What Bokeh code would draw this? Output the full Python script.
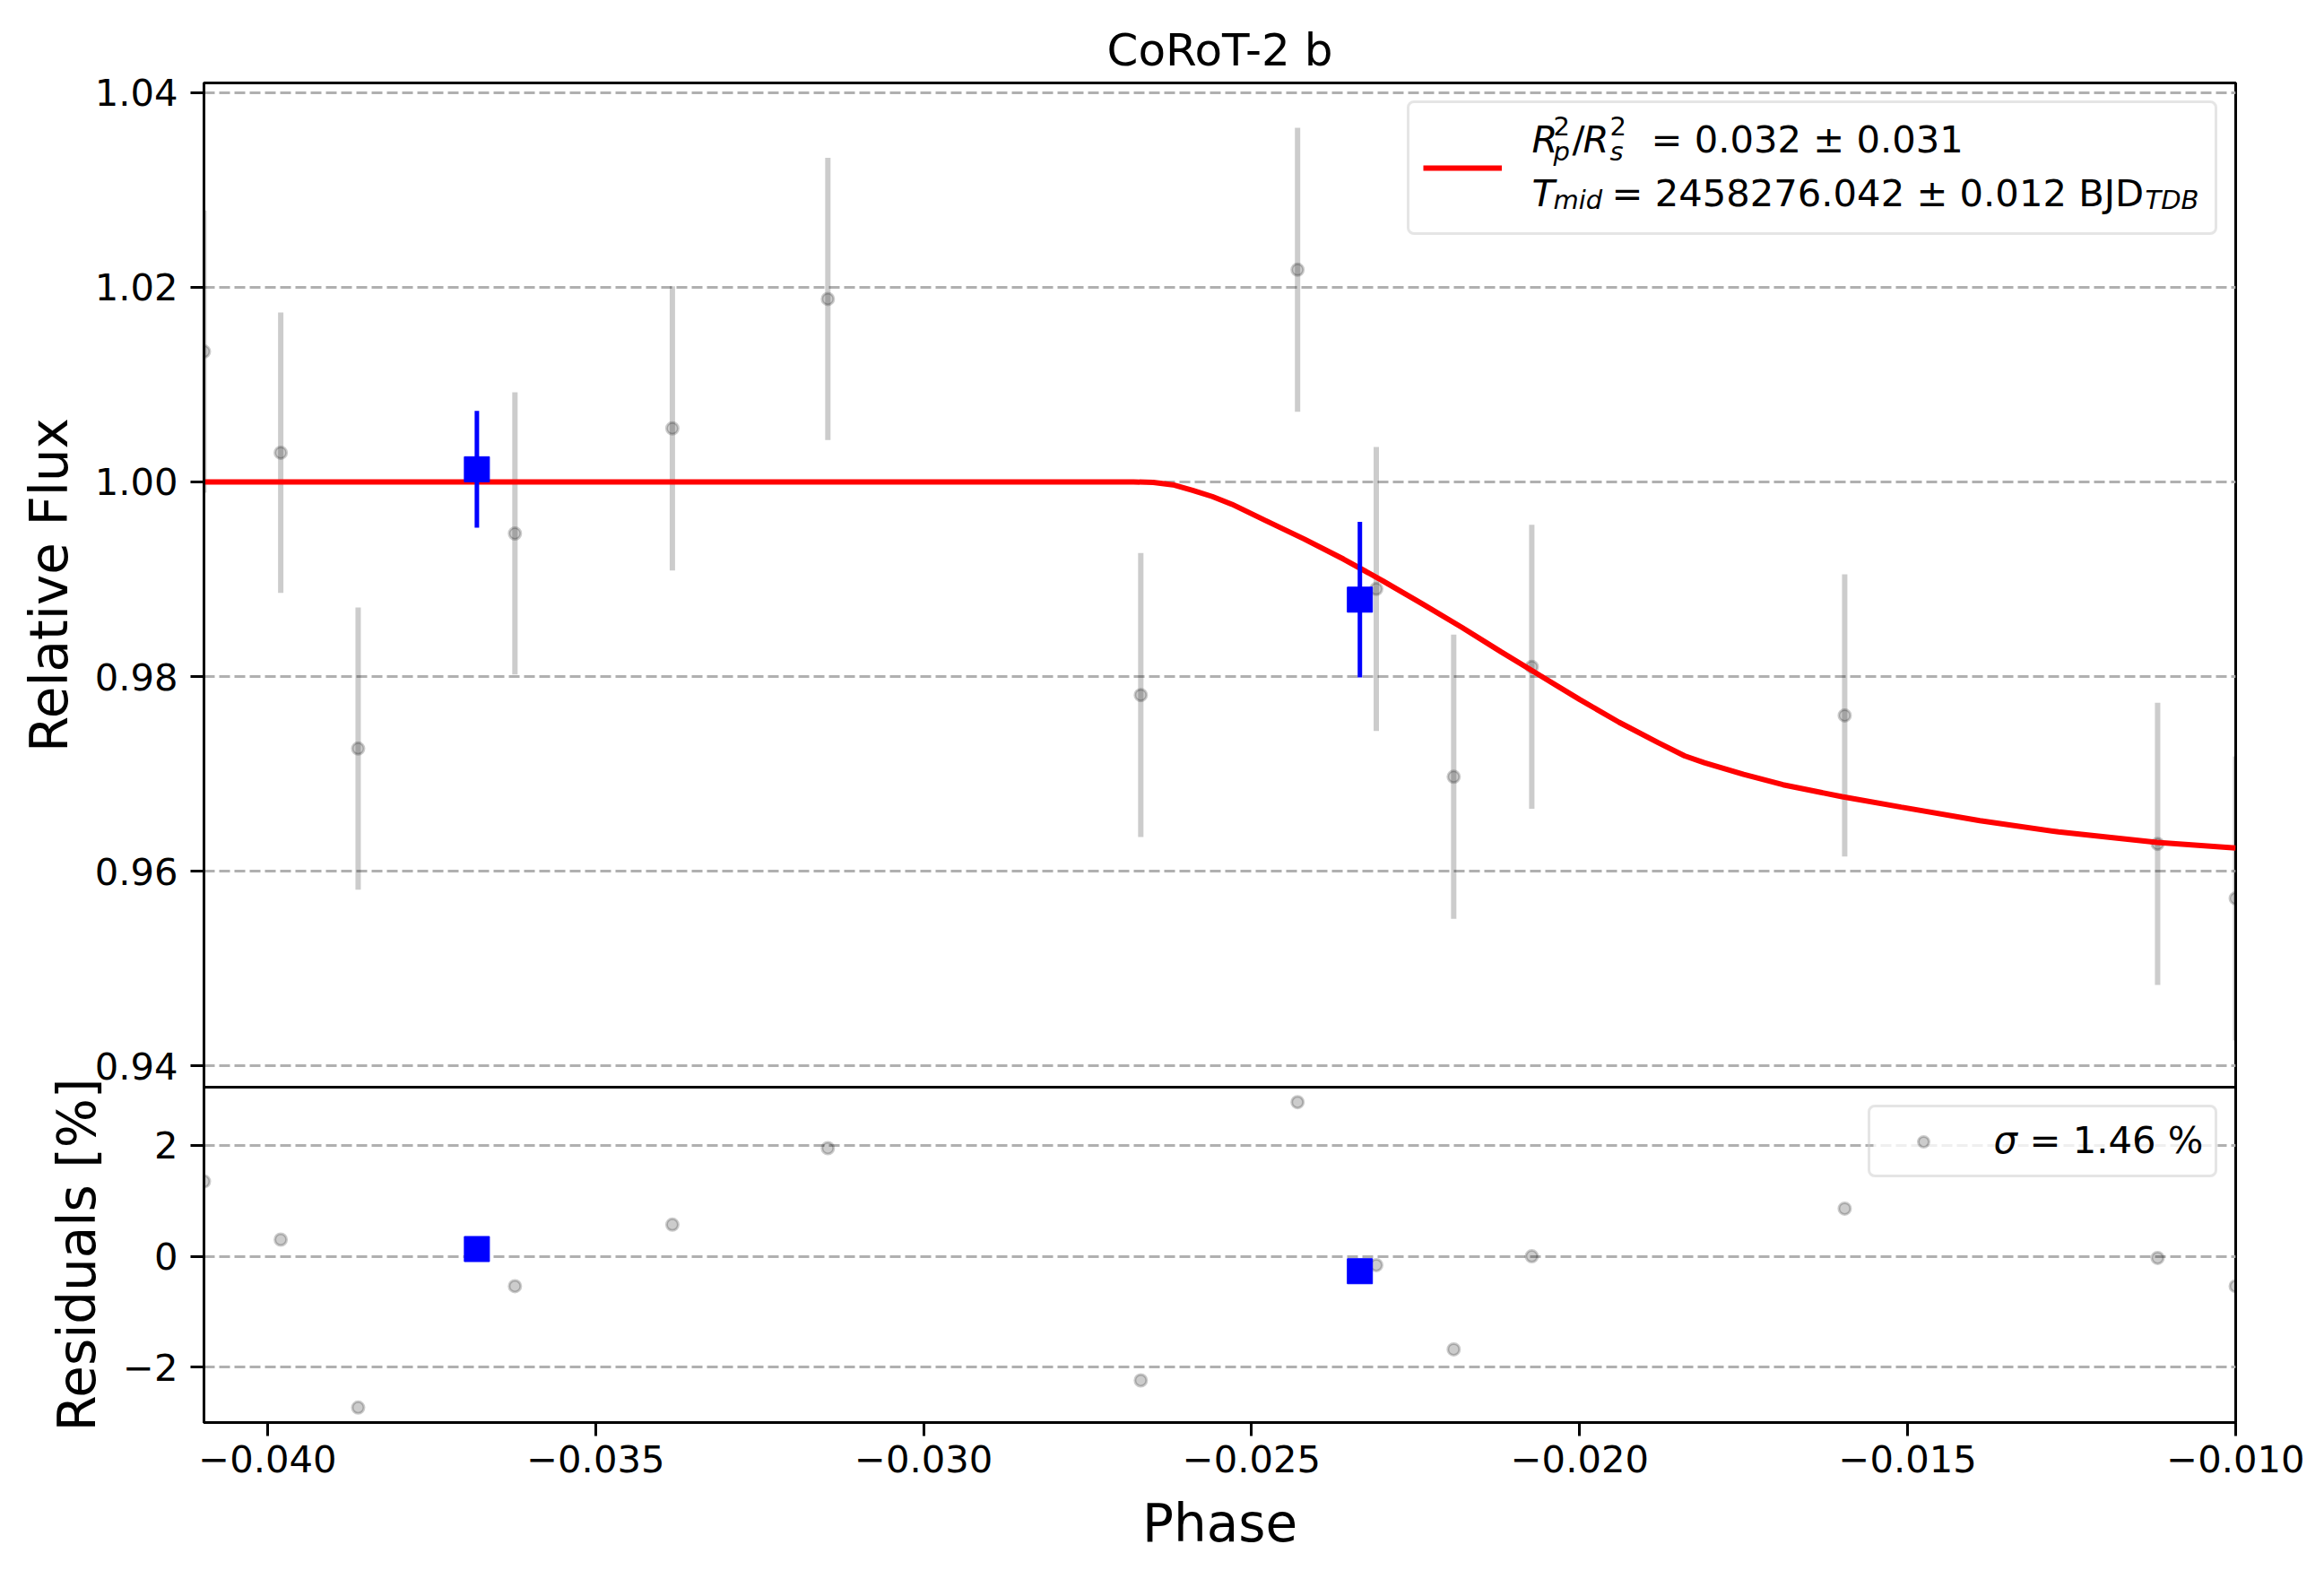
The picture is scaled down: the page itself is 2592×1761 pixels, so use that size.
import numpy as np
from bokeh.plotting import figure
from bokeh.layouts import column
from bokeh.models import (ColumnDataSource, Range1d, FixedTicker, CustomJSTickFormatter,
                          Legend, LegendItem, Label, BoxAnnotation)
from bokeh.embed import file_html
from bokeh.resources import INLINE

# unbinned points
phase = [-0.04097, -0.03980, -0.03862, -0.03623, -0.03383, -0.03146, -0.02669,
         -0.02430, -0.02310, -0.02192, -0.02073, -0.01596, -0.01119, -0.01000]
flux = [1.0134, 1.0030, 0.9726, 0.9947, 1.0055, 1.0188, 0.9781,
        1.0218, 0.9890, 0.9697, 0.9810, 0.9760, 0.9628, 0.9572]
flux_err = [0.0145, 0.0144, 0.0145, 0.0145, 0.0146, 0.0145, 0.0146,
            0.0146, 0.0146, 0.0146, 0.0146, 0.0145, 0.0145, 0.0146]
residuals = [1.35, 0.30, -2.73, -0.54, 0.57, 1.95, -2.24,
             2.78, -0.16, -1.68, 0.00, 0.86, -0.03, -0.54]

# binned points
bin_phase = [-0.03681, -0.02335]
bin_flux = [1.0013, 0.9879]
bin_err = [0.0060, 0.0080]
bin_residuals = [0.13, -0.27]

# transit model
model_phase = [-0.04097, -0.0268, -0.0265, -0.0262, -0.0259, -0.0256, -0.0253, -0.0248,
               -0.0242, -0.0236, -0.0230, -0.0224, -0.0218, -0.0212, -0.0206, -0.0200,
               -0.0194, -0.0188, -0.0184, -0.0181, -0.0175, -0.0169, -0.0160, -0.0151,
               -0.0139, -0.0127, -0.0112, -0.0100]
model_flux = [1.0, 1.0, 0.99995, 0.9997, 0.99914, 0.99850, 0.99770, 0.99607,
              0.99413, 0.99207, 0.98983, 0.98747, 0.98507, 0.98255, 0.98009, 0.97764,
              0.97530, 0.97320, 0.97185, 0.97115, 0.96995, 0.96888, 0.96765, 0.96658,
              0.96519, 0.96403, 0.96295, 0.96237]

x_ticks = [-0.040, -0.035, -0.030, -0.025, -0.020, -0.015, -0.010]
flux_ticks = [0.94, 0.96, 0.98, 1.00, 1.02, 1.04]
res_ticks = [-2, 0, 2]

FONT = "DejaVu Sans"
TICK_SIZE = "41.7px"
LABEL_SIZE = "58px"
W = 2576
LEFT, RIGHT, TOP = 227, 83, 92
FRAME_W = W - LEFT - RIGHT
MAIN_FH = 1120            # main frame height
RES_FH = 374              # residual frame height
OVERLAP = 40              # spare border shared by the two canvases
RES_BOTTOM = 169
MAIN_H = TOP + MAIN_FH + OVERLAP
RES_H = OVERLAP + RES_FH + RES_BOTTOM
RES_TOP = TOP + MAIN_FH   # page y of the residual frame top
TEXT_SHIFT = -13          # baseline correction for the legend texts

x_range = Range1d(-0.04097, -0.0100)
y_main = Range1d(0.9378, 1.0410)
y_res = Range1d(-3.0, 3.05)


def px_x(X):
    # page pixel -> phase
    return x_range.start + (X - LEFT) / FRAME_W * (x_range.end - x_range.start)


def px_y(Y, rng, top, fh):
    return rng.end - (Y - top) / fh * (rng.end - rng.start)


def style(fig):
    fig.outline_line_color = "black"
    fig.outline_line_width = 3
    fig.outline_line_alpha = 1
    fig.background_fill_color = "white"
    fig.xgrid.visible = False
    fig.ygrid.grid_line_color = "#b0b0b0"
    fig.ygrid.grid_line_width = 3
    fig.ygrid.grid_line_dash = "12 5"
    for ax in list(fig.xaxis) + list(fig.yaxis):
        ax.axis_line_color = "black"
        ax.axis_line_width = 3
        ax.major_tick_line_color = "black"
        ax.major_tick_line_width = 3
        ax.major_tick_out = 15
        ax.major_tick_in = 0
        ax.minor_tick_line_color = None
        ax.major_label_text_font = FONT
        ax.major_label_text_font_size = TICK_SIZE
        ax.major_label_text_color = "black"
        ax.axis_label_text_font = FONT
        ax.axis_label_text_font_size = LABEL_SIZE
        ax.axis_label_text_font_style = "normal"
        ax.axis_label_text_color = "black"
    for ax in fig.yaxis:
        ax.major_label_standoff = 14
        ax.axis_label_standoff = 14
    for ax in fig.xaxis:
        ax.major_label_standoff = 10
        ax.axis_label_standoff = 20


def legend_box(fig, renderer, glyph_h, label_h, label_w, box, rng, top, fh):
    # translucent fill as a box annotation (the legend itself would cover the texts)
    x0, x1, y0, y1 = box
    fig.add_layout(BoxAnnotation(left=px_x(x0), right=px_x(x1),
                                 top=px_y(y0, rng, top, fh), bottom=px_y(y1, rng, top, fh),
                                 fill_color="white", fill_alpha=0.8, line_color=None,
                                 level="underlay"))
    leg = Legend(items=[LegendItem(label=" ", renderers=[renderer])],
                 location="top_right", margin=20, padding=15, spacing=0,
                 glyph_width=88, glyph_height=glyph_h,
                 label_width=label_w, label_height=label_h, label_standoff=30,
                 label_text_font_size="10px",
                 border_line_color="#cccccc", border_line_width=3,
                 background_fill_alpha=0)
    if "border_radius" in Legend.properties():
        leg.border_radius = 8
    fig.add_layout(leg)


def add_text(fig, txt, X, Y, rng, top, fh, font_style="normal", size=TICK_SIZE):
    fig.add_layout(Label(x=px_x(X), y=px_y(Y + TEXT_SHIFT, rng, top, fh), text=txt,
                         text_font=FONT, text_font_size=size, text_font_style=font_style,
                         text_color="black", text_align="left", text_baseline="alphabetic"))


src = ColumnDataSource(dict(phase=phase, flux=flux, res=residuals,
                            lo=np.array(flux) - np.array(flux_err),
                            hi=np.array(flux) + np.array(flux_err)))
bsrc = ColumnDataSource(dict(phase=bin_phase, flux=bin_flux, res=bin_residuals,
                             lo=np.array(bin_flux) - np.array(bin_err),
                             hi=np.array(bin_flux) + np.array(bin_err)))

# upper panel: light curve
p = figure(width=W, height=MAIN_H, x_range=x_range, y_range=y_main,
           x_axis_location=None, toolbar_location=None, output_backend="svg",
           min_border_left=LEFT, min_border_right=RIGHT, min_border_top=TOP,
           min_border_bottom=OVERLAP, title="CoRoT-2 b", y_axis_label="Relative Flux")
style(p)
p.border_fill_color = "white"
p.yaxis.ticker = FixedTicker(ticks=flux_ticks)
p.yaxis.formatter = CustomJSTickFormatter(code="return tick.toFixed(2).replace('-', '\u2212')")
p.title.text_font = FONT
p.title.text_font_size = "50px"
p.title.text_font_style = "normal"
p.title.text_color = "black"
p.title.align = "center"
p.title.standoff = 15

p.segment(x0="phase", y0="lo", x1="phase", y1="hi", source=src,
          line_color="black", line_alpha=0.2, line_width=6)
p.scatter("phase", "flux", source=src, marker="circle", size=13,
          fill_color="black", fill_alpha=0.2, line_color="black", line_alpha=0.2, line_width=3)
model = p.line(model_phase, model_flux, line_color="red", line_width=6)
p.segment(x0="phase", y0="lo", x1="phase", y1="hi", source=bsrc,
          line_color="blue", line_width=5)
p.scatter("phase", "flux", source=bsrc, marker="square", size=28,
          fill_color="blue", line_color="blue", line_width=1)

legend_box(p, model, 114, 114, 750, (1575, 2473, 112, 257), y_main, TOP, MAIN_FH)

# legend text with sub/superscripts (page pixels)
main_texts = [
    ("R", 1708, 168.3, "italic", TICK_SIZE),
    ("2", 1732, 153.3, "normal", "29px"),
    ("p", 1732, 181.3, "italic", "29px"),
    ("/", 1753, 168.3, "normal", TICK_SIZE),
    ("R", 1765, 168.3, "italic", TICK_SIZE),
    ("2", 1795, 153.3, "normal", "29px"),
    ("s", 1795, 181.3, "italic", "29px"),
    ("= 0.032 \u00b1 0.031", 1841, 168.3, "normal", TICK_SIZE),
    ("T", 1708, 228.3, "italic", TICK_SIZE),
    ("mid", 1732, 235.0, "italic", "29px"),
    ("= 2458276.042 \u00b1 0.012 BJD", 1797, 228.3, "normal", TICK_SIZE),
    ("TDB", 2392, 235.0, "italic", "29px"),
]
for txt, X, Y, fs, size in main_texts:
    add_text(p, txt, X, Y, y_main, TOP, MAIN_FH, fs, size)

# lower panel: residuals (its transparent top border lies over the upper canvas)
r = figure(width=W, height=RES_H, x_range=x_range, y_range=y_res,
           toolbar_location=None, output_backend="svg",
           min_border_left=LEFT, min_border_right=RIGHT, min_border_top=OVERLAP,
           min_border_bottom=RES_BOTTOM, x_axis_label="Phase", y_axis_label="Residuals [%]")
style(r)
r.border_fill_alpha = 0
r.margin = (-2 * OVERLAP, 0, 0, 0)
r.xaxis.ticker = FixedTicker(ticks=x_ticks)
r.xaxis.formatter = CustomJSTickFormatter(code="return tick.toFixed(3).replace('-', '\u2212')")
r.yaxis.ticker = FixedTicker(ticks=res_ticks)
r.yaxis.formatter = CustomJSTickFormatter(code="return tick.toFixed(0).replace('-', '\u2212')")

res_pts = r.scatter("phase", "res", source=src, marker="circle", size=13,
                    fill_color="black", fill_alpha=0.2, line_color="black",
                    line_alpha=0.2, line_width=3)
r.scatter("phase", "res", source=bsrc, marker="square", size=28,
          fill_color="blue", line_color="blue", line_width=1)

legend_box(r, res_pts, 30, 45, 236, (2089, 2473, 1233, 1308), y_res, RES_TOP, RES_FH)

add_text(r, "\u03c3", 2223, 1284.3, y_res, RES_TOP, RES_FH, "italic")
add_text(r, "= 1.46 %", 2263, 1284.3, y_res, RES_TOP, RES_FH)

layout = column(p, r, spacing=0)
open("out.html", "w").write(file_html(layout, INLINE))
